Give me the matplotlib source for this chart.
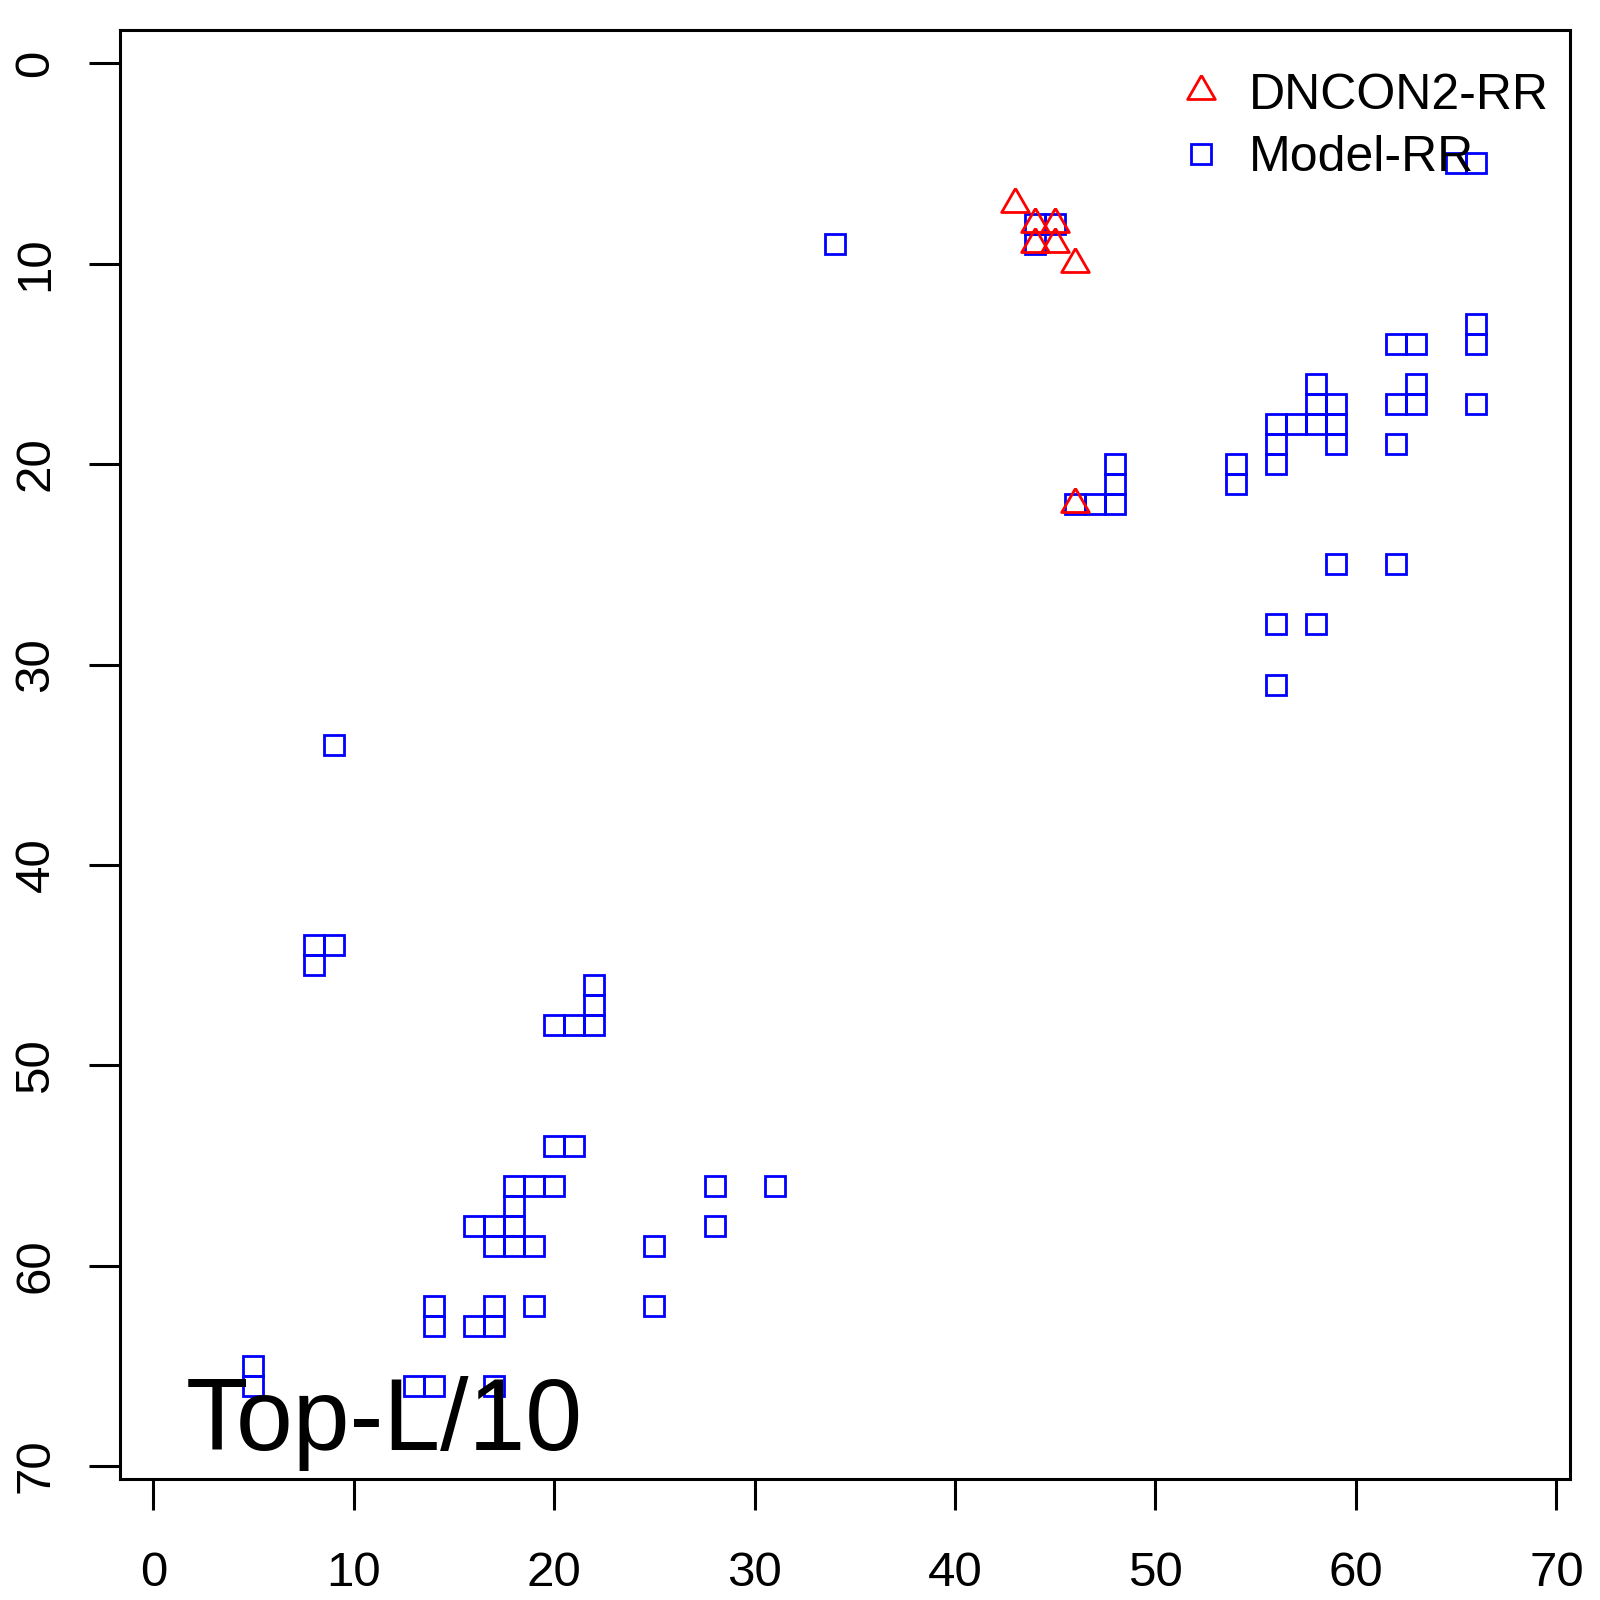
import matplotlib
matplotlib.use("Agg")
import matplotlib.pyplot as plt

# ---- data ----
dncon2_x = [43, 44, 45, 44, 45, 46, 46]
dncon2_y = [7, 8, 8, 9, 9, 10, 22]

model_x = [5, 5, 8, 8, 9, 9, 13, 14, 14, 14, 16, 16, 17, 17, 17, 17, 17,
           18, 18, 18, 18, 19, 19, 19, 20, 20, 20, 21, 21, 22, 22, 22,
           25, 25, 28, 28, 31, 34, 44, 45, 44, 46, 47, 48, 48, 48,
           54, 54, 56, 56, 56, 56, 56, 57, 58, 58, 58, 58, 59, 59, 59, 59,
           62, 62, 62, 62, 63, 63, 63, 65, 66, 66, 66, 66]
model_y = [65, 66, 44, 45, 34, 44, 66, 62, 63, 66, 58, 63, 58, 59, 62, 63, 66,
           56, 57, 58, 59, 56, 59, 62, 48, 54, 56, 48, 54, 46, 47, 48,
           59, 62, 56, 58, 56, 9, 8, 8, 9, 22, 22, 20, 21, 22,
           20, 21, 18, 19, 20, 28, 31, 18, 16, 17, 18, 28, 17, 18, 19, 25,
           14, 17, 19, 25, 14, 16, 17, 5, 5, 13, 14, 17]

ticks = [0, 10, 20, 30, 40, 50, 60, 70]
labels = ["DNCON2-RR", "Model-RR"]
title_text = "Top-L/10"

plt.rcParams['font.family'] = ['Liberation Sans', 'DejaVu Sans']

fig = plt.figure(figsize=(16, 16), dpi=100)
ax = fig.add_axes([120/1600, 1 - 1479/1600, 1450/1600, 1449/1600])

tri = [(0, 1.5551), (1.3468, -0.7776), (-1.3468, -0.7776), (0, 1.5551)]

ax.plot(model_x, model_y, linestyle='none', marker='s', markersize=14.8,
        markerfacecolor='none', markeredgecolor='#0000ff', markeredgewidth=2.0,
        label=labels[1], zorder=2)
ax.plot(dncon2_x, dncon2_y, linestyle='none', marker=tri, markersize=23,
        markerfacecolor='none', markeredgecolor='#ff0000', markeredgewidth=2.0,
        label=labels[0], zorder=3)

ax.set_xlim(-1.66, 70.68)
ax.set_ylim(70.64, -1.66)
ax.set_xticks(ticks)
ax.set_yticks(ticks)
ax.set_xticklabels([str(t) for t in ticks])
ax.set_yticklabels([str(t) for t in ticks])

for s in ax.spines.values():
    s.set_linewidth(2.2)
ax.tick_params(axis='both', direction='out', length=22.3, width=2.2,
               labelsize=35.5)
ax.tick_params(axis='x', pad=29.5)
ax.tick_params(axis='y', pad=22)
for lbl in ax.get_yticklabels():
    lbl.set_rotation(90)
    lbl.set_va('center')

handles, labs = ax.get_legend_handles_labels()
order = [1, 0]
ax.legend([handles[i] for i in order], [labs[i] for i in order],
          loc='upper right', bbox_to_anchor=(1.0095, 0.9945),
          frameon=False, fontsize=36,
          handlelength=1.0, handletextpad=0.45, labelspacing=0.33,
          borderaxespad=0.4, borderpad=0.3)

ax.text(0.045, 0.020, title_text, transform=ax.transAxes, fontsize=73.5,
        ha='left', va='baseline', color='black', zorder=5)

fig.savefig("out.png", dpi=100)
